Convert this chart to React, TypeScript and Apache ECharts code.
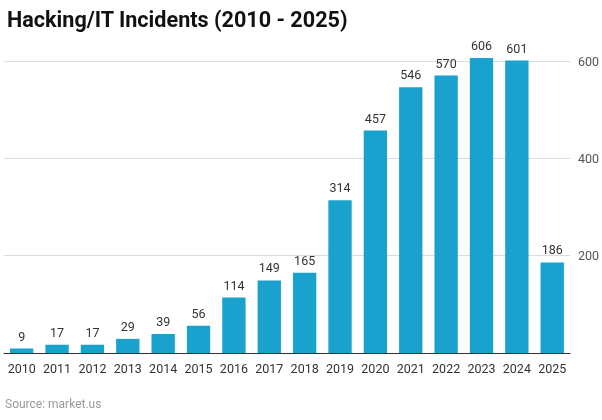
import React, { useEffect, useRef } from "react";
import * as echarts from "echarts";

const years = ["2010","2011","2012","2013","2014","2015","2016","2017","2018","2019","2020","2021","2022","2023","2024","2025"];
const incidents = [9, 17, 17, 29, 39, 56, 114, 149, 165, 314, 457, 546, 570, 606, 601, 186];
const titleText = "Hacking/IT Incidents (2010 - 2025)";
const sourceText = "Source: market.us";

export default function App() {
  const ref = useRef<HTMLDivElement>(null);
  useEffect(() => {
    if (!ref.current) return;
    const chart = echarts.init(ref.current, null, { renderer: "svg" });
    chart.setOption({
      animation: false,
      textStyle: { fontFamily: "Roboto" },
      title: {
        text: titleText,
        left: 2,
        top: 3,
        textStyle: { fontFamily: "Roboto", fontSize: 21.6, fontWeight: "bold", color: "#111" },
      },
      graphic: [
        {
          type: "text",
          left: 5,
          top: 398,
          style: { text: sourceText, fill: "#9a9a9a", fontSize: 12, fontFamily: "Roboto" },
        },
      ],
      grid: { left: 4, right: 31, top: 61, bottom: 67, containLabel: false },
      xAxis: {
        type: "category",
        data: years,
        axisLine: { lineStyle: { color: "#333", width: 1.2 } },
        axisTick: { alignWithLabel: true, length: 5, lineStyle: { color: "#333" } },
        axisLabel: { color: "#333", fontSize: 12.5, margin: 9, interval: 0 },
      },
      yAxis: {
        type: "value",
        position: "right",
        min: 0,
        max: 600,
        interval: 200,
        axisLine: { show: false },
        axisTick: { show: false },
        splitLine: { lineStyle: { color: "#dcdcdc", width: 1 } },
        axisLabel: {
          color: "#555",
          fontSize: 12.5,
          margin: 8,
          formatter: (v: number) => (v === 0 ? "" : String(v)),
        },
      },
      series: [
        {
          type: "bar",
          data: incidents,
          barWidth: "66%",
          clip: false,
          itemStyle: { color: "#18A2CD" },
          label: { show: true, position: "top", color: "#333", fontSize: 12.5, distance: 6 },
        },
      ],
    });
    return () => chart.dispose();
  }, []);
  return <div ref={ref} style={{ position: "fixed", left: 0, top: 0, width: 602, height: 420 }} />;
}
